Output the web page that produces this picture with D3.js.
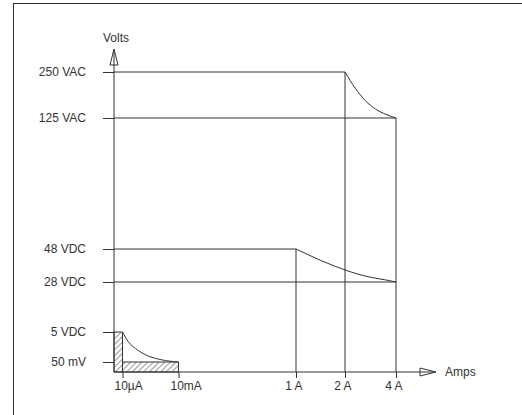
<!DOCTYPE html>
<html>
<head>
<meta charset="utf-8">
<script src="https://cdn.jsdelivr.net/npm/d3@7"></script>
<style>
  body { margin: 0; background: #fff; }
  svg text { font-family: "Liberation Sans", Arial, sans-serif; font-size: 12px; fill: #333; }
</style>
</head>
<body>
<div id="chart"></div>
<script>
// rating levels on the volts axis and where each limit line stops on the amps axis
var voltTicks  = [250, 125, 48, 28, 5, 0.05];
var voltLabels = ["250 VAC", "125 VAC", "48 VDC", "28 VDC", "5 VDC", "50 mV"];
var voltLineEnd = [2, 4, 1, 4, 0, 0];

// current levels on the amps axis and the voltage each vertical rises to
var ampTicks  = [0.00001, 0.01, 1, 2, 4];
var ampLabels = ["10\u00b5A", "10mA", "1 A", "2 A", "4 A"];
var ampLineTop = [5, 0.05, 48, 250, 125];

// derating curves [amps, volts]
var acCurve  = [[2, 250], [2.4, 206], [2.8, 172], [3.2, 149], [3.6, 135], [4, 125]];
var dcCurve  = [[1, 48], [1.25, 44.5], [1.52, 40.9], [1.8, 37.5], [2, 35.3], [2.5, 32.8], [3.03, 30.8], [3.55, 29.4], [4, 28]];
var lowCurve = [[0.00001, 5], [0.001, 3.45], [0.0028, 1.96], [0.0045, 1.09], [0.0069, 0.43], [0.01, 0.05]];

// hatched dry-circuit region
var lowRegion = [[0, 5], [0.00001, 5], [0.00001, 0.05], [0.01, 0.05], [0.01, 0], [0, 0]];

drawChart();

function drawChart(){

    var width = 522, height = 415;
    var ink = "#333";

    var svg = d3.select("#chart")
        .append("svg")
        .attr("width", width)
        .attr("height", height);

    // frame (right and bottom run off the picture)
    svg.append("rect")
        .attr("x", 13.5).attr("y", 3.5)
        .attr("width", 600).attr("height", 600)
        .attr("fill", "none").attr("stroke", ink);

    // schematic, piecewise scales
    var x = d3.scaleLinear()
        .domain([0, 0.00001, 0.01, 1, 2, 4])
        .range([114, 122.5, 178.5, 296, 345, 396]);

    var y = d3.scaleLinear()
        .domain([0, 0.05, 5, 28, 48, 125, 250])
        .range([372, 362, 332, 282, 249, 118, 72]);

    var defs = svg.append("defs");
    var pat = defs.append("pattern")
        .attr("id", "hatch")
        .attr("patternUnits", "userSpaceOnUse")
        .attr("width", 4).attr("height", 4)
        .attr("patternTransform", "rotate(45)");
    pat.append("line")
        .attr("x1", 0).attr("y1", 0).attr("x2", 0).attr("y2", 4)
        .attr("stroke", ink).attr("stroke-width", 1);

    var line = d3.line()
        .x(function(d){ return x(d[0]); })
        .y(function(d){ return y(d[1]); });

    // hatched region
    svg.append("path")
        .attr("d", line(lowRegion) + "Z")
        .attr("fill", "url(#hatch)")
        .attr("stroke", ink).attr("stroke-width", 1);

    // y axis with ticks reaching left
    var yAxis = d3.axisLeft(y)
        .tickValues(voltTicks)
        .tickSize(11)
        .tickPadding(17)
        .tickFormat(function(d, i){ return voltLabels[i]; });

    var gy = svg.append("g")
        .attr("transform", "translate(" + x(0) + ",0)")
        .call(yAxis);
    gy.select(".domain").remove();
    gy.selectAll(".tick line").attr("stroke", ink);
    gy.selectAll("text").attr("font-family", null).attr("font-size", null);
    gy.attr("font-family", null).attr("font-size", null);

    // x axis with ticks below
    var xAxis = d3.axisBottom(x)
        .tickValues(ampTicks)
        .tickSize(6)
        .tickPadding(3.5)
        .tickFormat(function(d, i){ return ampLabels[i]; });

    var gx = svg.append("g")
        .attr("transform", "translate(0," + y(0) + ")")
        .call(xAxis);
    gx.select(".domain").remove();
    gx.selectAll(".tick line").attr("stroke", ink);
    gx.attr("font-family", null).attr("font-size", null);
    gx.selectAll(".tick text")
        .attr("text-anchor", function(d){ return d >= 1 ? "end" : "start"; })
        .attr("dx", function(d){ return d >= 1 ? 6 : -8.5; });

    // axis lines with open arrow heads
    svg.append("line")
        .attr("x1", x(0)).attr("y1", 50).attr("x2", x(0)).attr("y2", y(0))
        .attr("stroke", ink);
    svg.append("path")
        .attr("d", "M" + x(0) + ",49 L" + (x(0) - 4) + ",65 L" + (x(0) + 4) + ",65 Z")
        .attr("fill", "none").attr("stroke", ink);

    svg.append("line")
        .attr("x1", x(0)).attr("y1", y(0)).attr("x2", 435).attr("y2", y(0))
        .attr("stroke", ink);
    svg.append("path")
        .attr("d", "M436," + y(0) + " L420," + (y(0) - 4) + " L420," + (y(0) + 4) + " Z")
        .attr("fill", "none").attr("stroke", ink);

    svg.append("text").text("Volts").attr("x", 103).attr("y", 42);
    svg.append("text").text("Amps").attr("x", 445).attr("y", y(0)).attr("dy", "0.35em");

    // horizontal limit lines
    svg.append("g").selectAll("line")
        .data(voltTicks).enter().append("line")
        .filter(function(d, i){ return voltLineEnd[i] > 0; })
        .attr("x1", x(0))
        .attr("x2", function(d){ return x(voltLineEnd[voltTicks.indexOf(d)]); })
        .attr("y1", function(d){ return y(d); })
        .attr("y2", function(d){ return y(d); })
        .attr("stroke", ink);

    // vertical limit lines
    svg.append("g").selectAll("line")
        .data(ampTicks).enter().append("line")
        .attr("x1", function(d){ return x(d); })
        .attr("x2", function(d){ return x(d); })
        .attr("y1", function(d, i){ return y(ampLineTop[i]); })
        .attr("y2", y(0))
        .attr("stroke", ink);

    // derating curves
    var curve = d3.line()
        .x(function(d){ return x(d[0]); })
        .y(function(d){ return y(d[1]); })
        .curve(d3.curveMonotoneX);

    [acCurve, dcCurve, lowCurve].forEach(function(c){
        svg.append("path")
            .attr("d", curve(c))
            .attr("fill", "none")
            .attr("stroke", ink)
            .attr("stroke-width", 1);
    });
}
</script>
</body>
</html>
